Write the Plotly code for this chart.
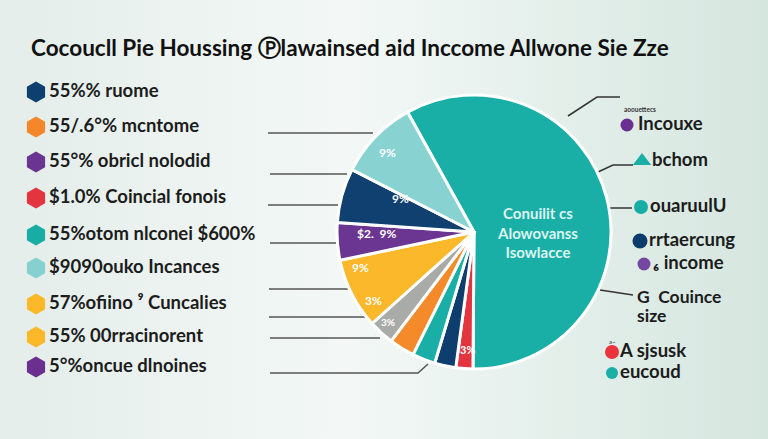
import plotly.graph_objects as go

W, H = 768, 439

title_text = "Cocoucll Pie Houssing \u24c5lawainsed aid Inccome Allwone Sie Zze"

# Pie slices (clockwise from the start of the big slice)
slice_labels = ["Council Allowance", "Red share", "Navy share", "Teal share", "Orange share",
                "Gray share", "Yellow share", "Purple share", "Navy large", "Light teal"]
slice_values = [58, 2.0, 2.5, 2.7, 3.0, 3.0, 8.3, 4.4, 6.4, 9.4]
slice_colors = ["#1aafa6", "#e3353f", "#0e3e6d", "#19aea6", "#f58a2b",
                "#a9aba9", "#fbb82a", "#6b3592", "#0f4070", "#88d3d2"]

# Left legend
left_labels = ["55%% ruome", "55/.6°% mcntome", "55°% obricl nolodid", "$1.0% Coincial fonois",
               "55%otom nlconei $600%", "$9090ouko Incances", "57%ofiino \u2079 Cuncalies",
               "55% 00rracinorent", "5°%oncue dlnoines"]
left_colors = ["#0e3f6f", "#f5862a", "#6a3592", "#e3343f", "#19aca4", "#86d0d0",
               "#fbb829", "#fbb829", "#6a2f8f"]
left_y = [92, 127, 162, 198, 235, 268, 304, 337, 367]

# Right legend
right_labels = ["Incouxe", "bchom", "ouaruulU", "rrtaercung", "\u2086 income"]
right_colors = ["#6b2f93", "#1aafa6", "#17ada5", "#0c3c6c", "#7448a0"]
right_symbols = ["circle", "triangle-up", "circle", "circle", "circle"]
right_mx = [627, 642, 641, 640, 644]
right_y = [125, 161, 207, 241, 264]
right_tx = [638, 652, 650, 649, 653]

bottom_labels = ["A sjsusk", "eucoud"]
bottom_colors = ["#e8343c", "#19aea6"]
bottom_y = [352, 373]

slice_texts = ["9%", "9%", "$2.  9%", "9%", "3%", "3%", "3%"]
slice_tx = [387, 400, 377, 360, 373, 388, 467]
slice_ty = [152, 198, 233, 267, 300, 322, 349]
slice_ts = [12, 12, 12, 12, 12, 10, 11]

FONT = "Lato"
TXT = dict(family=FONT, size=18.5, color="#1c1c1c", weight="bold")
fig = go.Figure()

# background gradient
fig.add_trace(go.Scatter(
    x=[0, W, W, 0, 0], y=[0, 0, H, H, 0], mode="lines", fill="toself",
    line=dict(width=0, color="rgba(0,0,0,0)"),
    fillgradient=dict(type="horizontal",
                      colorscale=[[0, "#e4edea"], [0.45, "#f3f8f6"], [1, "#d5e6df"]]),
    hoverinfo="skip", showlegend=False))

# leader lines left
left_lines = [((268, 133), (373, 133)), ((270, 174), (347, 174)), ((268, 205), (338, 205)),
              ((270, 243), (338, 243)), ((269, 289), (350, 289)), ((269, 317), (365, 317)),
              ((270, 338), (380, 338))]
for (a, b) in left_lines:
    fig.add_trace(go.Scatter(x=[a[0], b[0]], y=[a[1], b[1]], mode="lines",
                             line=dict(color="#555555", width=1.5), hoverinfo="skip", showlegend=False))
fig.add_trace(go.Scatter(x=[270, 418, 428], y=[373, 373, 364], mode="lines",
                         line=dict(color="#555555", width=1.5), hoverinfo="skip", showlegend=False))
# leader lines right
right_lines = [([568, 597, 620], [116, 97, 97]), ([598, 613, 633], [172, 165, 165]),
               ([609, 632], [208, 208]), ([600, 633], [290, 295])]
for xs, ys in right_lines:
    fig.add_trace(go.Scatter(x=xs, y=ys, mode="lines", line=dict(color="#333333", width=1.5),
                             hoverinfo="skip", showlegend=False))

# left legend markers and text
fig.add_trace(go.Scatter(x=[36] * len(left_y), y=left_y, mode="markers",
                         marker=dict(symbol="hexagon", size=21, color=left_colors, line=dict(width=0)),
                         hoverinfo="skip", showlegend=False))
fig.add_trace(go.Scatter(x=[49] * len(left_y), y=left_y, mode="text", text=left_labels,
                         textposition="middle right", textfont=TXT,
                         hoverinfo="skip", showlegend=False))

# right legend
fig.add_trace(go.Scatter(x=right_mx, y=right_y, mode="markers",
                         marker=dict(symbol=right_symbols, size=[13, 16, 14, 15, 13], color=right_colors,
                                     opacity=1, line=dict(width=0)),
                         hoverinfo="skip", showlegend=False))
fig.add_trace(go.Scatter(x=right_tx, y=right_y, mode="text", text=right_labels,
                         textposition="middle right", textfont=TXT,
                         hoverinfo="skip", showlegend=False))
fig.add_trace(go.Scatter(x=[612, 612], y=bottom_y, mode="markers",
                         marker=dict(symbol="circle", size=[14, 12], color=bottom_colors,
                                     opacity=1, line=dict(width=0)),
                         hoverinfo="skip", showlegend=False))
fig.add_trace(go.Scatter(x=[620, 620], y=bottom_y, mode="text", text=bottom_labels,
                         textposition="middle right", textfont=TXT,
                         hoverinfo="skip", showlegend=False))

# pie
cx, cy, r = 474, 232, 137
fig.add_trace(go.Pie(
    labels=slice_labels, values=slice_values, sort=False, direction="clockwise", rotation=-29,
    marker=dict(colors=slice_colors, line=dict(color="#ffffff", width=3)),
    textinfo="none", hoverinfo="label+percent", showlegend=False,
    domain=dict(x=[(cx - r) / W, (cx + r) / W], y=[(H - cy - r) / H, (H - cy + r) / H])))

annotations = [
    dict(x=29, y=47, text=title_text, xanchor="left", yanchor="middle", showarrow=False,
         font=dict(family=FONT, size=22.5, color="#111111", weight="bold")),
    dict(x=537, y=232, text="Conuilit cs<br>Alowovanss<br>Isowlacce", showarrow=False,
         xanchor="center", yanchor="middle",
         font=dict(family=FONT, size=15, color="#dcf4f0", weight="bold")),
    dict(x=622, y=109, text="aoouettecs", showarrow=False, xanchor="left",
         font=dict(family=FONT, size=6.5, color="#333333", weight="bold")),
    dict(x=635, y=296, text="G  Couince", showarrow=False, xanchor="left",
         font=dict(family=FONT, size=17.5, color="#1c1c1c", weight="bold")),
    dict(x=635, y=315, text="size", showarrow=False, xanchor="left",
         font=dict(family=FONT, size=17.5, color="#1c1c1c", weight="bold")),
    dict(x=607, y=341, text="a~", showarrow=False, xanchor="left",
         font=dict(family=FONT, size=6, color="#333333")),
]
for t, x, y, s in zip(slice_texts, slice_tx, slice_ty, slice_ts):
    annotations.append(dict(x=x, y=y, text=t, showarrow=False, xanchor="center", yanchor="middle",
                            font=dict(family=FONT, size=s, color="#ffffff", weight="bold")))

fig.update_layout(
    width=W, height=H, margin=dict(l=0, r=0, t=0, b=0),
    paper_bgcolor="#eef4f2", plot_bgcolor="rgba(0,0,0,0)",
    xaxis=dict(range=[0, W], visible=False, fixedrange=True),
    yaxis=dict(range=[H, 0], visible=False, fixedrange=True),
    annotations=annotations, showlegend=False,
)
fig.write_html("out.html", config={"displayModeBar": False},
               post_script="document.body.style.margin='0';")
